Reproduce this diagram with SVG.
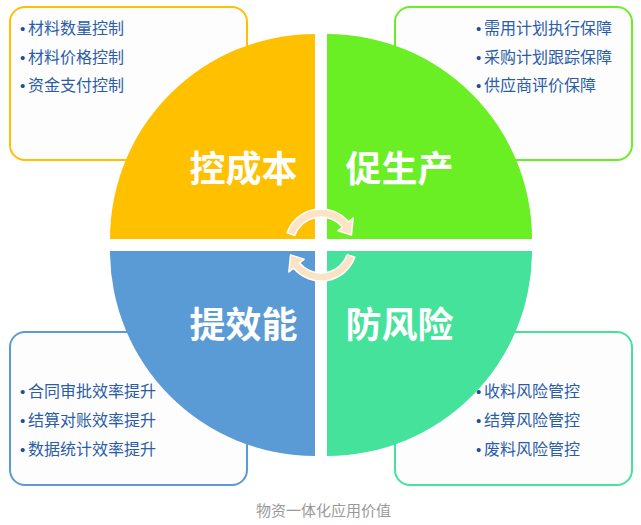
<svg xmlns="http://www.w3.org/2000/svg" width="641" height="525" viewBox="0 0 641 525">
<style>
.box{fill:#FDFDFD;stroke-width:2}
.item{font-family:"Noto Sans CJK SC","Microsoft YaHei",sans-serif;font-size:16px;fill:#2A5CA8}
.dot{font-family:"Liberation Sans",sans-serif;font-size:15px;fill:#1F4E99}
.big{font-family:"Noto Sans CJK SC",sans-serif;font-size:36px;font-weight:bold;fill:#FFFFFF;text-anchor:middle}
.arrow{fill:#FCE3C6;stroke:#FFFFFF;stroke-width:1.5;stroke-linejoin:round}
.cap{font-family:"Noto Sans CJK SC",sans-serif;font-size:15px;fill:#999999;text-anchor:middle}
</style>
<rect width="641" height="525" fill="#FFFFFF"/>
<g id="box-cost">
<rect class="box" x="10" y="7" width="237" height="153" rx="15" stroke="#FFC000"/>
<text class="item" x="20" y="34"><tspan class="dot">•</tspan><tspan x="28">材料数量控制</tspan></text>
<text class="item" x="20" y="62.5"><tspan class="dot">•</tspan><tspan x="28">材料价格控制</tspan></text>
<text class="item" x="20" y="91"><tspan class="dot">•</tspan><tspan x="28">资金支付控制</tspan></text>
</g>
<g id="box-prod">
<rect class="box" x="395" y="7" width="237" height="153" rx="15" stroke="#6AEE24"/>
<text class="item" x="476" y="34"><tspan class="dot">•</tspan><tspan x="484">需用计划执行保障</tspan></text>
<text class="item" x="476" y="62.5"><tspan class="dot">•</tspan><tspan x="484">采购计划跟踪保障</tspan></text>
<text class="item" x="476" y="91"><tspan class="dot">•</tspan><tspan x="484">供应商评价保障</tspan></text>
</g>
<g id="box-eff">
<rect class="box" x="10" y="332" width="237" height="153" rx="15" stroke="#5B9BD5"/>
<text class="item" x="20" y="397"><tspan class="dot">•</tspan><tspan x="28">合同审批效率提升</tspan></text>
<text class="item" x="20" y="426"><tspan class="dot">•</tspan><tspan x="28">结算对账效率提升</tspan></text>
<text class="item" x="20" y="454.5"><tspan class="dot">•</tspan><tspan x="28">数据统计效率提升</tspan></text>
</g>
<g id="box-risk">
<rect class="box" x="395" y="332" width="237" height="153" rx="15" stroke="#44E29B"/>
<text class="item" x="476" y="397"><tspan class="dot">•</tspan><tspan x="484">收料风险管控</tspan></text>
<text class="item" x="476" y="426"><tspan class="dot">•</tspan><tspan x="484">结算风险管控</tspan></text>
<text class="item" x="476" y="454.5"><tspan class="dot">•</tspan><tspan x="484">废料风险管控</tspan></text>
</g>
<g id="q-cost">
<path d="M315 239 L110 239 A205 205 0 0 1 315 34 Z" fill="#FFC000"/>
<text class="big" x="243.5" y="182">控成本</text>
</g>
<g id="q-prod">
<path d="M327 239 L327 34 A205 205 0 0 1 532 239 Z" fill="#6AEE24"/>
<text class="big" x="399.5" y="182">促生产</text>
</g>
<g id="q-eff">
<path d="M315 251 L315 456 A205 205 0 0 1 110 251 Z" fill="#5B9BD5"/>
<text class="big" x="243.5" y="338">提效能</text>
</g>
<g id="q-risk">
<path d="M327 251 L532 251 A205 205 0 0 1 327 456 Z" fill="#44E29B"/>
<text class="big" x="399.5" y="338">防风险</text>
</g>
<g id="connectors">
<path class="arrow" d="M287.17 232.69 A36 36 0 0 1 348.58 221.86 L353.17 218 L351.43 235.11 L337.85 230.86 L342.45 227 A28 28 0 0 0 294.69 235.42 Z"/>
<path class="arrow" transform="rotate(180 321 245)" d="M287.17 232.69 A36 36 0 0 1 348.58 221.86 L353.17 218 L351.43 235.11 L337.85 230.86 L342.45 227 A28 28 0 0 0 294.69 235.42 Z"/>
</g>
<text class="cap" x="323.5" y="516">物资一体化应用价值</text>
</svg>
